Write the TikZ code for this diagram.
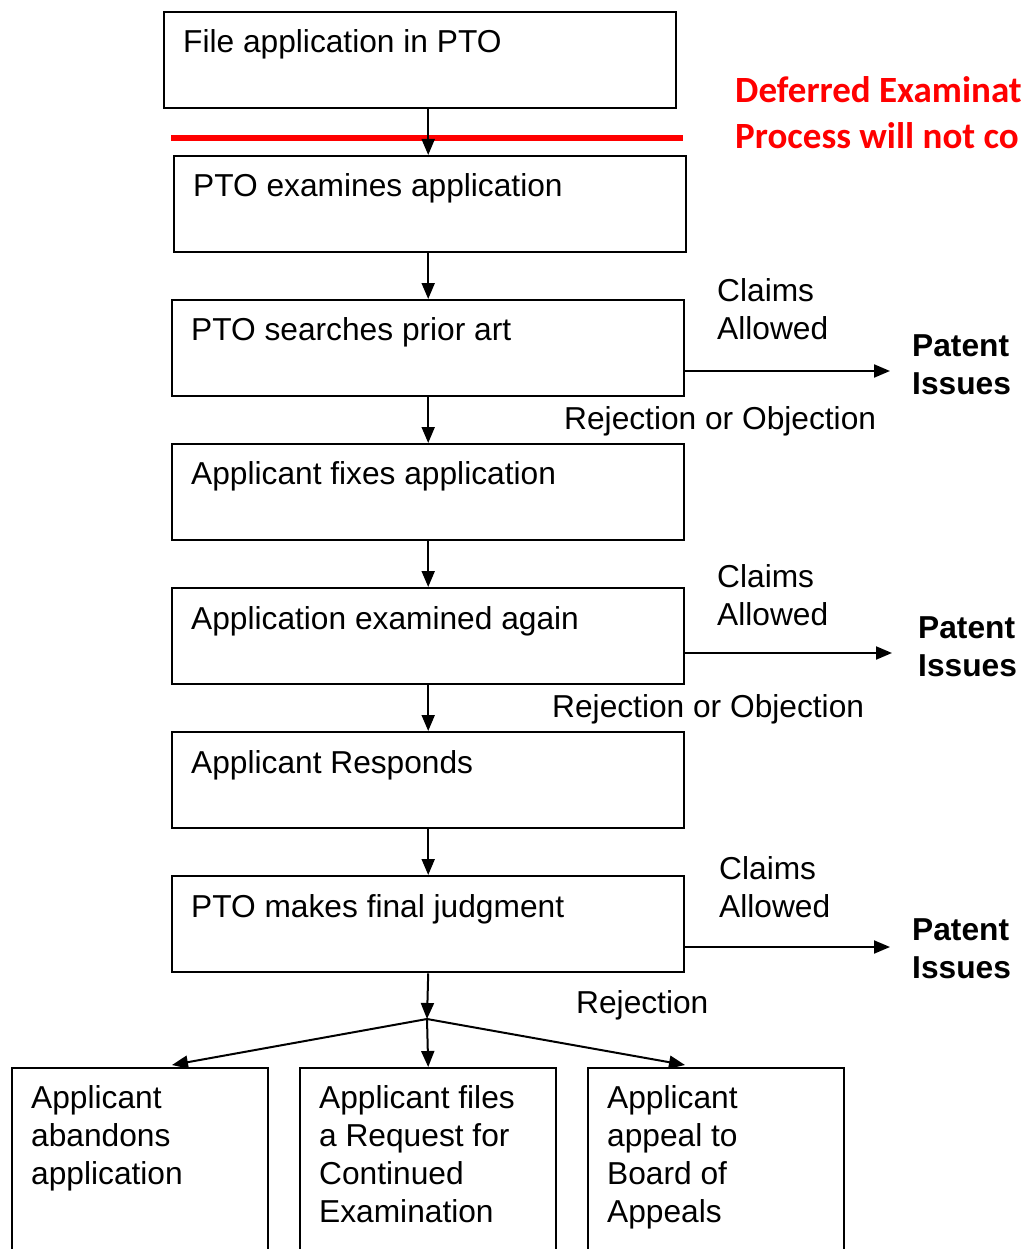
\documentclass[tikz,border=0pt]{standalone}
\usepackage{fontspec}
\setmainfont{Liberation Sans}
\newfontfamily\redfont{Carlito}
\usetikzlibrary{arrows.meta}
\begin{document}
\begin{tikzpicture}[x=1pt,y=-1pt,
  box/.style={draw, line width=2.4pt, minimum width=512pt, minimum height=96pt, inner sep=0pt, anchor=north west},
  sbox/.style={draw, line width=2.4pt, minimum width=256pt, minimum height=250pt, inner sep=0pt, anchor=north west},
  txt/.style={inner sep=0pt, anchor=base west, font=\fontsize{31.7}{38}\selectfont},
  btxt/.style={inner sep=0pt, anchor=base west, font=\fontsize{31.7}{38}\selectfont\bfseries},
  rtxt/.style={inner sep=0pt, anchor=base west, text=red, font=\fontsize{37}{44}\selectfont\redfont\bfseries},
  arr/.style={line width=2pt, -{Triangle[length=16pt,width=13pt]}}]
\useasboundingbox (0,0) rectangle (1020,1249);
\clip (0,0) rectangle (1020,1249);
\fill[white] (0,0) rectangle (1020,1249);

% boxes
\node[box] (b1) at (163,11) {};
\node[box] (b2) at (173,155) {};
\node[box] (b3) at (171,299) {};
\node[box] (b4) at (171,443) {};
\node[box] (b5) at (171,587) {};
\node[box] (b6) at (171,731) {};
\node[box] (b7) at (171,875) {};
\node[sbox] (b8) at (11,1067) {};
\node[sbox] (b9) at (299,1067) {};
\node[sbox] (b10) at (587,1067) {};

% box texts
\node[txt] (t1) at (183,53) {File application in PTO};
\node[txt] (t2) at (193,197) {PTO examines application};
\node[txt] (t3) at (191,340) {PTO searches prior art};
\node[txt] (t4) at (191,484) {Applicant fixes application};
\node[txt] (t5) at (191,629) {Application examined again};
\node[txt] (t6) at (191,773) {Applicant Responds};
\node[txt] (t7) at (191,917) {PTO makes final judgment};

\node[txt] (t8a) at (31,1108) {Applicant};
\node[txt] (t8b) at (31,1146) {abandons};
\node[txt] (t8c) at (31,1184) {application};
\node[txt] (t9a) at (319,1108) {Applicant files};
\node[txt] (t9b) at (319,1146) {a Request for};
\node[txt] (t9c) at (319,1184) {Continued};
\node[txt] (t9d) at (319,1222) {Examination};
\node[txt] (t10a) at (607,1108) {Applicant};
\node[txt] (t10b) at (607,1146) {appeal to};
\node[txt] (t10c) at (607,1184) {Board of};
\node[txt] (t10d) at (607,1222) {Appeals};

% red line and note
\draw[red, line width=6pt] (171,138) -- (683,138);
\node[rtxt] (r1) at (735,103) {Deferred Examinat};
\node[rtxt] (r2) at (735,149) {Process will not co};

% vertical arrows
\draw[arr] (b1.south -| b3.center) -- (b2.north -| b3.center);
\draw[arr] (b2.south -| b3.center) -- (b3.north);
\draw[arr] (b3.south) -- (b4.north);
\draw[arr] (b4.south) -- (b5.north);
\draw[arr] (b5.south) -- (b6.north);
\draw[arr] (b6.south) -- (b7.north);

% side labels and outcomes
\node[txt] (c1a) at (717,301) {Claims};
\node[txt] (c1b) at (717,339) {Allowed};
\node[btxt] (p1a) at (912,356) {Patent};
\node[btxt] (p1b) at (912,394) {Issues};
\coordinate (e1) at (890,371);
\draw[arr] (b3.east |- e1) -- (e1);
\node[txt] (j1) at (564,429) {Rejection or Objection};

\node[txt] (c2a) at (717,587) {Claims};
\node[txt] (c2b) at (717,625) {Allowed};
\node[btxt] (p2a) at (918,638) {Patent};
\node[btxt] (p2b) at (918,676) {Issues};
\coordinate (e2) at (892,653);
\draw[arr] (b5.east |- e2) -- (e2);
\node[txt] (j2) at (552,717) {Rejection or Objection};

\node[txt] (c3a) at (719,879) {Claims};
\node[txt] (c3b) at (719,917) {Allowed};
\node[btxt] (p3a) at (912,940) {Patent};
\node[btxt] (p3b) at (912,978) {Issues};
\coordinate (e3) at (890,947);
\draw[arr] (b7.east |- e3) -- (e3);
\node[txt] (j3) at (576,1013) {Rejection};

% final split
\coordinate (J) at (427,1019);
\coordinate (tl) at (172,1065);
\coordinate (tr) at (685,1065);
\draw[arr] (b7.south) -- (J);
\draw[arr] (J) -- (tl);
\draw[arr] (J) -- (b9.north);
\draw[arr] (J) -- (tr);
\end{tikzpicture}
\end{document}
